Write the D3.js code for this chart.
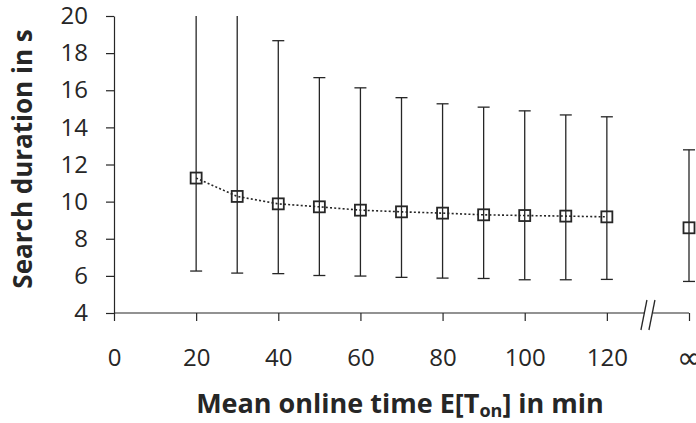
<!DOCTYPE html>
<html>
<head>
<meta charset="utf-8">
<script src="https://cdn.jsdelivr.net/npm/d3@7"></script>
<style>
  html, body { margin: 0; padding: 0; background: #fff; }
  svg { display: block; }
</style>
</head>
<body>
<div id="chart"></div>
<script>
// Mean online time (min) for the finite runs; the last point is "no churn" (∞)
const onlineTimes = [20, 30, 40, 50, 60, 70, 80, 90, 100, 110, 120];
const meanDuration = [11.27, 10.28, 9.88, 9.72, 9.54, 9.45, 9.38, 9.29, 9.25, 9.22, 9.18];
const upperDuration = [21.0, 20.6, 18.67, 16.68, 16.13, 15.6, 15.27, 15.09, 14.89, 14.67, 14.57];
const lowerDuration = [6.26, 6.15, 6.12, 6.02, 5.99, 5.92, 5.88, 5.86, 5.79, 5.79, 5.81];

// ∞ sits one tick step past 120 on the broken axis
const infinityPosition = 140;
const infinityMean = 8.59;
const infinityUpper = 12.79;
const infinityLower = 5.7;

const axisBreakAt = 130;
const xTickValues = [0, 20, 40, 60, 80, 100, 120, 140];
const xTickLabels = ['0', '20', '40', '60', '80', '100', '120', '∞'];
const yTickValues = [4, 6, 8, 10, 12, 14, 16, 18, 20];

const width = 696;
const height = 423;
const plot = { left: 114, right: 689, top: 16, bottom: 313 };
const ink = '#262626';
const fontFamily = '"Open Sans", Lato, sans-serif';

const x = d3.scaleLinear().domain([0, 140]).range([plot.left, plot.right]);
const y = d3.scaleLinear().domain([4, 20]).range([plot.bottom, plot.top]);
const yClamp = (v) => y(Math.min(v, 20));

const svg = d3
  .select('#chart')
  .append('svg')
  .attr('width', width)
  .attr('height', height)
  .attr('viewBox', `0 0 ${width} ${height}`);

/* Y axis */
const yAxisG = svg
  .append('g')
  .attr('transform', `translate(${plot.left},0)`)
  .call(d3.axisLeft(y).tickValues(yTickValues).tickSize(8).tickSizeOuter(0).tickPadding(18));

yAxisG.selectAll('path, line').attr('stroke', ink).attr('stroke-width', 1.2);
yAxisG
  .selectAll('text')
  .attr('fill', ink)
  .attr('font-family', fontFamily)
  .attr('font-size', 24);

/* X axis (domain line drawn by hand to leave room for the break) */
const xAxisG = svg
  .append('g')
  .attr('transform', `translate(0,${plot.bottom})`)
  .call(
    d3
      .axisBottom(x)
      .tickValues(xTickValues)
      .tickFormat((d, i) => xTickLabels[i])
      .tickSize(8)
      .tickSizeOuter(0)
      .tickPadding(28)
  );

xAxisG.select('.domain').remove();
xAxisG.selectAll('line').attr('stroke', ink).attr('stroke-width', 1.2);
xAxisG
  .selectAll('text')
  .attr('fill', ink)
  .attr('font-family', fontFamily)
  .attr('font-size', 24);

// the ∞ glyph is tiny in Open Sans, use DejaVu's wide one
xAxisG
  .selectAll('.tick')
  .filter((d) => d === infinityPosition)
  .select('text')
  .attr('font-family', '"DejaVu Sans", sans-serif')
  .attr('font-size', 30)
  .attr('dy', '0.62em');

const breakX = x(axisBreakAt);
const axisLines = [
  [x(0), breakX - 3],
  [breakX + 5, x(140)],
];
svg
  .append('g')
  .selectAll('line')
  .data(axisLines)
  .join('line')
  .attr('x1', (d) => d[0])
  .attr('x2', (d) => d[1])
  .attr('y1', plot.bottom)
  .attr('y2', plot.bottom)
  .attr('stroke', ink)
  .attr('stroke-width', 1.2);

// the two "//" strokes
svg
  .append('g')
  .selectAll('line')
  .data([-4, 4])
  .join('line')
  .attr('x1', (d) => breakX + d + 3)
  .attr('y1', plot.bottom - 13)
  .attr('x2', (d) => breakX + d - 3)
  .attr('y2', plot.bottom + 17)
  .attr('stroke', ink)
  .attr('stroke-width', 1.3);

/* Error bars */
const bars = onlineTimes
  .map((t, i) => ({ pos: t, lo: lowerDuration[i], hi: upperDuration[i] }))
  .concat([{ pos: infinityPosition, lo: infinityLower, hi: infinityUpper }]);

const barG = svg.append('g').attr('stroke', ink).attr('stroke-width', 1.3);

barG
  .selectAll('line.stem')
  .data(bars)
  .join('line')
  .attr('class', 'stem')
  .attr('x1', (d) => x(d.pos))
  .attr('x2', (d) => x(d.pos))
  .attr('y1', (d) => y(d.lo))
  .attr('y2', (d) => yClamp(d.hi));

const caps = bars.flatMap((d) => {
  const c = [{ pos: d.pos, v: d.lo }];
  if (d.hi <= 20) c.push({ pos: d.pos, v: d.hi });
  return c;
});

barG
  .selectAll('line.cap')
  .data(caps)
  .join('line')
  .attr('class', 'cap')
  .attr('x1', (d) => x(d.pos) - 6)
  .attr('x2', (d) => x(d.pos) + 6)
  .attr('y1', (d) => y(d.v))
  .attr('y2', (d) => y(d.v));

/* Dotted mean line (finite online times only) */
const meanPoints = onlineTimes.map((t, i) => ({ pos: t, v: meanDuration[i] }));

svg
  .append('path')
  .datum(meanPoints)
  .attr('fill', 'none')
  .attr('stroke', ink)
  .attr('stroke-width', 1.6)
  .attr('stroke-dasharray', '2,2.2')
  .attr('d', d3.line().x((d) => x(d.pos)).y((d) => y(d.v)));

/* Square markers */
const markerPoints = meanPoints.concat([{ pos: infinityPosition, v: infinityMean }]);
const sq = 11;

svg
  .append('g')
  .selectAll('rect')
  .data(markerPoints)
  .join('rect')
  .attr('x', (d) => x(d.pos) - sq / 2)
  .attr('y', (d) => y(d.v) - sq / 2)
  .attr('width', sq)
  .attr('height', sq)
  .attr('fill', 'none')
  .attr('stroke', ink)
  .attr('stroke-width', 1.8);

/* Axis titles */
svg
  .append('text')
  .attr('transform', 'translate(32,159) rotate(-90)')
  .attr('text-anchor', 'middle')
  .attr('fill', ink)
  .attr('font-family', fontFamily)
  .attr('font-weight', 700)
  .attr('font-size', 26)
  .text('Search duration in s');

const xTitle = svg
  .append('text')
  .attr('x', 400)
  .attr('y', 413)
  .attr('text-anchor', 'middle')
  .attr('fill', ink)
  .attr('font-family', fontFamily)
  .attr('font-weight', 700)
  .attr('font-size', 27);

xTitle.append('tspan').text('Mean online time E[T');
xTitle.append('tspan').attr('font-size', 18).attr('dy', 4).text('on');
xTitle.append('tspan').attr('dy', -4).text('] in min');
</script>
</body>
</html>
